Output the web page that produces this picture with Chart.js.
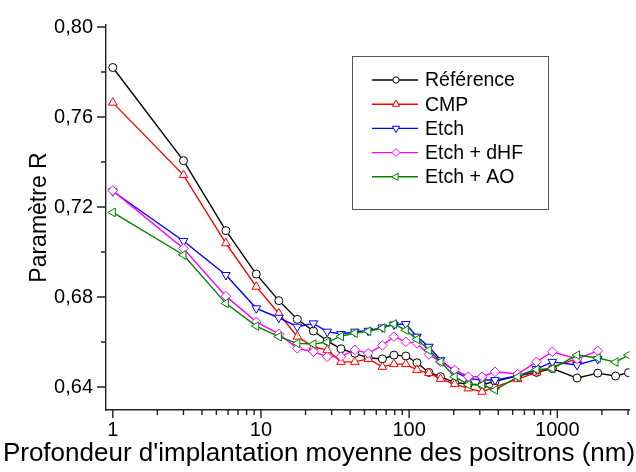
<!DOCTYPE html>
<html>
<head>
<meta charset="utf-8">
<script src="https://cdn.jsdelivr.net/npm/chart.js@4.4.1/dist/chart.umd.min.js"></script>
<style>
  html, body { margin: 0; padding: 0; background: #fff; }
  #wrap { width: 636px; height: 472px; }
</style>
</head>
<body>
<div id="wrap"><canvas id="chart" width="636" height="472"></canvas></div>
<script>
// mean positron implantation depth (nm), shared by all series
const depths = [1, 3, 5.8, 9.3, 13.2, 17.6, 22.6, 28, 34.7, 43, 53, 66, 79, 95, 113, 136, 163, 203, 251, 311, 380, 541, 724, 926, 1360, 1876, 2474, 3020];

// R parameter per sample (null = no measurement at that depth)
const refR  = [0.782, 0.7406, 0.7095, 0.6902, 0.6784, 0.6701, 0.6649, 0.6605, 0.657, 0.655, 0.653, 0.6525, 0.6542, 0.6538, 0.6508, 0.6465, 0.6446, 0.642, 0.6413, 0.641, 0.6425, 0.645, 0.6465, 0.6482, 0.644, 0.6462, 0.6449, 0.6464];
const cmpR  = [0.7664, 0.7342, 0.7039, 0.6846, 0.6727, 0.6624, 0.6579, 0.6564, 0.6512, 0.6512, 0.6525, 0.649, 0.6502, 0.6502, 0.6476, 0.6462, 0.6436, 0.6413, 0.6394, 0.6379, 0.6401, 0.6435, 0.6465, 0.649, 0.6525, null, null, null];
const etchR = [0.727, 0.7049, 0.6898, 0.675, 0.6708, 0.6668, 0.6683, 0.6646, 0.6636, 0.6646, 0.665, 0.6665, 0.6678, 0.668, 0.6624, 0.6579, 0.652, 0.647, 0.6438, 0.6431, 0.6431, 0.645, 0.648, 0.6512, 0.6498, 0.6524, null, null];
const dhfR  = [0.7273, 0.7016, 0.6804, 0.669, 0.6636, 0.6572, 0.6557, 0.6535, 0.6535, 0.6565, 0.655, 0.6585, 0.6624, 0.6601, 0.6594, 0.6545, 0.6512, 0.6476, 0.6446, 0.6446, 0.6468, 0.6458, 0.6512, 0.6557, 0.6525, 0.6561, null, null];
const aoR   = [0.7176, 0.6987, 0.6772, 0.6671, 0.6624, 0.6594, 0.6591, 0.66, 0.6625, 0.664, 0.6648, 0.6662, 0.668, 0.6653, 0.6612, 0.6564, 0.6512, 0.6446, 0.641, 0.6409, 0.6387, 0.6445, 0.6478, 0.6482, 0.6542, 0.6529, 0.6511, 0.6542];

const seriesNames = ['Référence', 'CMP', 'Etch', 'Etch + dHF', 'Etch + AO'];
const yTicks = [0.64, 0.66, 0.68, 0.70, 0.72, 0.74, 0.76, 0.78, 0.80];
const yLabelled = [0.64, 0.68, 0.72, 0.76, 0.80];
const xLabelled = [1, 10, 100, 1000];
const xTitle = "Profondeur d'implantation moyenne des positrons (nm)";
const yTitle = 'Paramètre R';

const FONT = "'Liberation Sans', Arial, sans-serif";
Chart.defaults.font.family = FONT;
Chart.defaults.color = '#000';

const styles = [
  { color: '#000000', pointStyle: 'circle', rotation: 0, radius: 4 },
  { color: '#ff0000', pointStyle: 'triangle', rotation: 0, radius: 5 },
  { color: '#0000ff', pointStyle: 'triangle', rotation: 180, radius: 5 },
  { color: '#ff00ff', pointStyle: 'rectRot', rotation: 0, radius: 4.8 },
  { color: '#008000', pointStyle: 'triangle', rotation: 270, radius: 5 }
];

const values = [refR, cmpR, etchR, dhfR, aoR];
const datasets = values.map((vals, i) => ({
  label: seriesNames[i],
  data: depths.map((d, k) => ({ x: d, y: vals[k] })),
  borderColor: styles[i].color,
  borderWidth: 1.4,
  pointStyle: styles[i].pointStyle,
  rotation: styles[i].rotation,
  pointRadius: styles[i].radius,
  pointBorderWidth: 1,
  pointBorderColor: styles[i].color,
  pointBackgroundColor: '#ffffff',
  spanGaps: false,
  tension: 0,
  order: values.length - i
}));

const isDecade = v => xLabelled.some(d => Math.abs(v - d) < 1e-9);
const isMajorY = v => yLabelled.some(d => Math.abs(v - d) < 1e-9);

// tick marks (long for labelled, short for minor) and the x axis title
const axisDecor = {
  id: 'axisDecor',
  afterDraw(chart) {
    const { ctx } = chart;
    const xs = chart.scales.x, ys = chart.scales.y;
    ctx.save();
    ctx.strokeStyle = '#222';
    ctx.lineWidth = 1.4;
    ctx.beginPath();
    xs.ticks.forEach(t => {
      const px = xs.getPixelForValue(t.value);
      const len = isDecade(t.value) ? 8 : 5;
      ctx.moveTo(px, xs.top);
      ctx.lineTo(px, xs.top + len);
    });
    ys.ticks.forEach(t => {
      const py = ys.getPixelForValue(t.value);
      const len = isMajorY(t.value) ? 9 : 5;
      ctx.moveTo(ys.right, py);
      ctx.lineTo(ys.right - len, py);
    });
    ctx.stroke();
    ctx.fillStyle = '#000';
    ctx.font = '26px ' + FONT;
    ctx.textAlign = 'center';
    ctx.textBaseline = 'alphabetic';
    ctx.fillText(xTitle, 319, 461);
    ctx.restore();
  }
};

// boxed legend with line + marker samples
const boxLegend = {
  id: 'boxLegend',
  afterDraw(chart) {
    const { ctx } = chart;
    const box = { x: 352.5, y: 56.5, w: 196, h: 153 };
    ctx.save();
    ctx.fillStyle = '#fff';
    ctx.fillRect(box.x, box.y, box.w, box.h);
    ctx.strokeStyle = '#555';
    ctx.lineWidth = 1;
    ctx.strokeRect(box.x, box.y, box.w, box.h);
    ctx.font = '19.5px ' + FONT;
    ctx.textBaseline = 'middle';
    ctx.textAlign = 'left';
    chart.data.datasets.forEach((ds, i) => {
      const y = 80 + i * 24.2;
      ctx.strokeStyle = ds.borderColor;
      ctx.lineWidth = 1.4;
      ctx.beginPath();
      ctx.moveTo(372, y);
      ctx.lineTo(418, y);
      ctx.stroke();
      ctx.fillStyle = '#fff';
      ctx.lineWidth = 1;
      Chart.helpers.drawPoint(ctx, {
        pointStyle: ds.pointStyle,
        rotation: ds.rotation,
        radius: ds.pointRadius - 0.8,
        borderWidth: 1
      }, 396, y);
      ctx.fillStyle = '#000';
      ctx.fillText(ds.label, 425, y + 1);
    });
    ctx.restore();
  }
};

new Chart(document.getElementById('chart'), {
  type: 'line',
  data: { datasets },
  options: {
    responsive: false,
    animation: false,
    layout: { padding: { top: 25, right: 0, left: 0, bottom: 0 } },
    plugins: { legend: { display: false }, tooltip: { enabled: false } },
    scales: {
      x: {
        type: 'logarithmic',
        min: 0.9,
        max: 3070,
        grid: { display: false, drawTicks: false },
        border: { display: true, color: '#222', width: 1.4 },
        afterBuildTicks: s => {
          const t = [];
          for (let p = 1; p <= 1000; p *= 10) {
            for (let m = 1; m <= 9; m++) {
              const v = m * p;
              if (v >= 1 && v <= s.max) t.push({ value: v });
            }
          }
          s.ticks = t;
        },
        afterFit: s => { s.height = 62; },
        ticks: {
          autoSkip: false,
          maxRotation: 0,
          padding: 8,
          font: { size: 20 },
          color: '#000',
          callback: v => isDecade(v) ? String(v) : ''
        }
      },
      y: {
        type: 'linear',
        min: 0.6298,
        max: 0.8009,
        grid: { display: false, drawTicks: false },
        border: { display: true, color: '#222', width: 1.4 },
        afterBuildTicks: s => { s.ticks = yTicks.map(v => ({ value: v })); },
        afterFit: s => { s.width = 106; },
        ticks: {
          padding: 13,
          font: { size: 20 },
          color: '#000',
          callback: v => isMajorY(v) ? v.toFixed(2).replace('.', ',') : ''
        },
        title: {
          display: true,
          text: yTitle,
          font: { size: 23 },
          color: '#000',
          padding: { top: 26, bottom: 0 }
        }
      }
    }
  },
  plugins: [axisDecor, boxLegend]
});
</script>
</body>
</html>
